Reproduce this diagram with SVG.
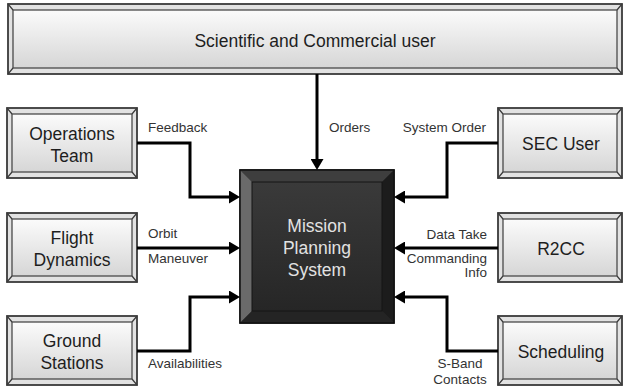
<svg xmlns="http://www.w3.org/2000/svg" width="624" height="387" viewBox="0 0 624 387">
<defs>
<linearGradient id="faceG" x1="0" y1="0" x2="0" y2="1">
<stop offset="0" stop-color="#fbfbfb"/>
<stop offset="1" stop-color="#d6d6d6"/>
</linearGradient>
<linearGradient id="darkG" x1="0" y1="0" x2="0" y2="1">
<stop offset="0" stop-color="#3a3a3a"/>
<stop offset="1" stop-color="#262626"/>
</linearGradient>
<marker id="arr" markerUnits="userSpaceOnUse" markerWidth="12" markerHeight="13" refX="0" refY="6.5" orient="auto">
<path d="M0,0 L11,6.5 L0,13 z" fill="#000"/>
</marker>
<style>
.frame{fill:#e2e2e2;stroke:#3a3a3a;stroke-width:1.8}
.face{fill:url(#faceG);stroke:#4a4a4a;stroke-width:1.3}
.diag{stroke:#3a3a3a;stroke-width:1.2}
.bt{font-family:"Liberation Sans",Arial,sans-serif;font-size:17.5px;fill:#1e1e1e;text-anchor:middle}
.lbl{font-family:"Liberation Sans",Arial,sans-serif;font-size:13.5px;fill:#333}
.end{text-anchor:end}
.mid{text-anchor:middle}
.conn{fill:none;stroke:#000;stroke-width:3;marker-end:url(#arr)}
.mt{font-family:"Liberation Sans",Arial,sans-serif;font-size:17.5px;fill:#e2e2e2;text-anchor:middle}
</style>
</defs>
<rect width="624" height="387" fill="#fff"/>

<g id="sci-user">
<rect class="frame" x="8" y="4" width="614" height="70"/>
<rect class="face" x="13" y="10" width="604" height="58"/>
<path class="diag" d="M8,4 L13,10 M622,4 L617,10 M8,74 L13,68 M622,74 L617,68"/>
<text class="bt" x="315" y="47">Scientific and Commercial user</text>
</g>

<g id="ops-team">
<rect class="frame" x="7" y="108" width="130" height="70"/>
<rect class="face" x="12" y="114" width="120" height="58"/>
<path class="diag" d="M7,108 L12,114 M137,108 L132,114 M7,178 L12,172 M137,178 L132,172"/>
<text class="bt" x="72" y="140">Operations</text>
<text class="bt" x="72" y="162">Team</text>
</g>

<g id="flight-dyn">
<rect class="frame" x="7" y="213" width="130" height="69"/>
<rect class="face" x="12" y="219" width="120" height="57"/>
<path class="diag" d="M7,213 L12,219 M137,213 L132,219 M7,282 L12,276 M137,282 L132,276"/>
<text class="bt" x="72" y="244">Flight</text>
<text class="bt" x="72" y="266">Dynamics</text>
</g>

<g id="ground-st">
<rect class="frame" x="7" y="316" width="130" height="69"/>
<rect class="face" x="12" y="322" width="120" height="57"/>
<path class="diag" d="M7,316 L12,322 M137,316 L132,322 M7,385 L12,379 M137,385 L132,379"/>
<text class="bt" x="72" y="347">Ground</text>
<text class="bt" x="72" y="369">Stations</text>
</g>

<g id="sec-user">
<rect class="frame" x="498" y="108" width="124" height="70"/>
<rect class="face" x="503" y="114" width="114" height="58"/>
<path class="diag" d="M498,108 L503,114 M622,108 L617,114 M498,178 L503,172 M622,178 L617,172"/>
<text class="bt" x="561" y="150">SEC User</text>
</g>

<g id="r2cc">
<rect class="frame" x="498" y="213" width="124" height="69"/>
<rect class="face" x="503" y="219" width="114" height="57"/>
<path class="diag" d="M498,213 L503,219 M622,213 L617,219 M498,282 L503,276 M622,282 L617,276"/>
<text class="bt" x="561" y="255">R2CC</text>
</g>

<g id="scheduling">
<rect class="frame" x="498" y="316" width="124" height="69"/>
<rect class="face" x="503" y="322" width="114" height="57"/>
<path class="diag" d="M498,316 L503,322 M622,316 L617,322 M498,385 L503,379 M622,385 L617,379"/>
<text class="bt" x="561" y="358">Scheduling</text>
</g>

<g id="mps">
<rect x="240" y="170" width="154" height="153" fill="#2a2a2a" stroke="#111" stroke-width="1.5"/>
<polygon points="240,170 394,170 382,182 252,182" fill="#3e3e3e"/>
<polygon points="240,170 252,182 252,311 240,323" fill="#6a6a6a"/>
<polygon points="394,170 394,323 382,311 382,182" fill="#1c1c1c"/>
<polygon points="240,323 252,311 382,311 394,323" fill="#242424"/>
<rect x="252" y="182" width="130" height="129" fill="url(#darkG)" stroke="#151515" stroke-width="1"/>
<rect x="240" y="170" width="154" height="153" fill="none" stroke="#111" stroke-width="1.5"/>
<text class="mt" x="317" y="232">Mission</text>
<text class="mt" x="317" y="254">Planning</text>
<text class="mt" x="317" y="276">System</text>
</g>

<g id="connectors">
<path class="conn" d="M317,74 V159"/>
<path class="conn" d="M137,143 H190 V197 H229"/>
<path class="conn" d="M137,248 H229"/>
<path class="conn" d="M137,351 H190 V297 H229"/>
<path class="conn" d="M498,143 H447 V197 H405"/>
<path class="conn" d="M498,248 H405"/>
<path class="conn" d="M498,351 H447 V297 H405"/>
</g>

<g id="labels">
<text class="lbl" x="148" y="132">Feedback</text>
<text class="lbl" x="329" y="132">Orders</text>
<text class="lbl end" x="486" y="132">System Order</text>
<text class="lbl" x="148" y="238">Orbit</text>
<text class="lbl" x="148" y="263">Maneuver</text>
<text class="lbl end" x="487" y="239">Data Take</text>
<text class="lbl end" x="487" y="263">Commanding</text>
<text class="lbl end" x="487" y="277">Info</text>
<text class="lbl" x="148" y="368">Availabilities</text>
<text class="lbl mid" x="460" y="368">S-Band</text>
<text class="lbl mid" x="460" y="384">Contacts</text>
</g>
</svg>
